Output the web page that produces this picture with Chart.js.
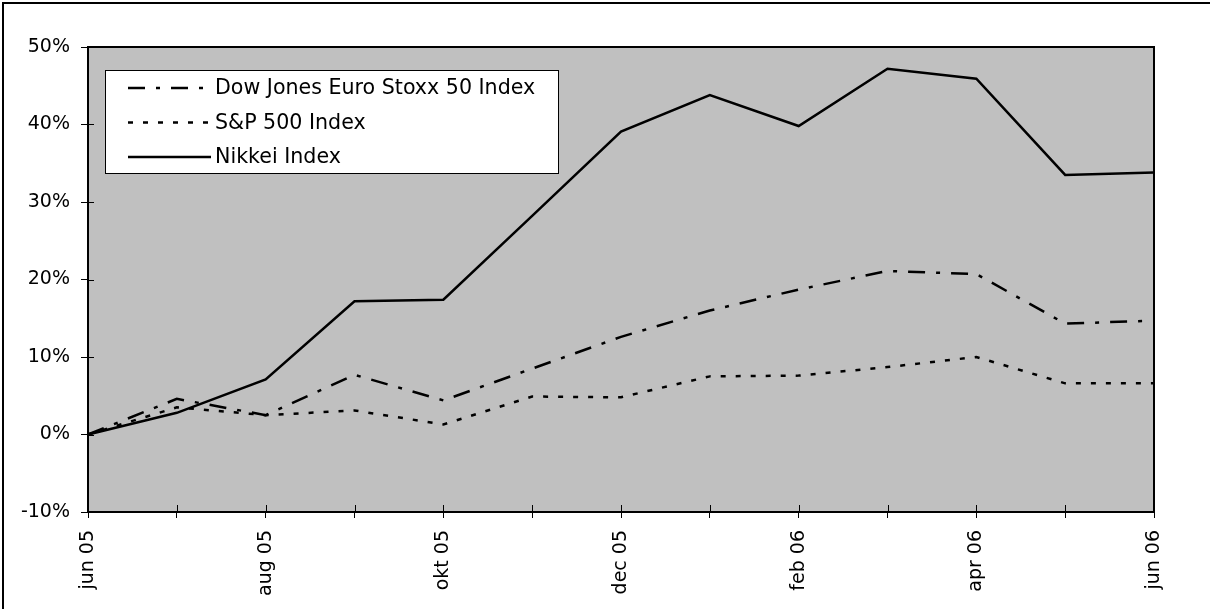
<!DOCTYPE html>
<html>
<head>
<meta charset="utf-8">
<script src="https://cdn.jsdelivr.net/npm/chart.js@4/dist/chart.umd.min.js"></script>
<style>
  html, body { margin: 0; padding: 0; background: #fff; }
  #wrap { position: relative; width: 1210px; height: 609px; }
</style>
</head>
<body>
<div id="wrap"><canvas id="chart" width="1210" height="609"></canvas></div>
<script>
// months on the x axis, only every second one gets a label
const months = ['jun 05', 'jul 05', 'aug 05', 'sep 05', 'okt 05', 'nov 05', 'dec 05',
                'jan 06', 'feb 06', 'mar 06', 'apr 06', 'mai 06', 'jun 06'];

// cumulative return in %
const stoxx50 = [0, 4.6, 2.5, 7.7, 4.4, 8.5, 12.6, 16.0, 18.7, 21.1, 20.7, 14.3, 14.7];
const sp500 = [0, 3.5, 2.5, 3.1, 1.3, 4.9, 4.8, 7.5, 7.6, 8.7, 10.0, 6.6, 6.6];
const nikkei = [0, 2.8, 7.1, 17.2, 17.4, 28.2, 39.1, 43.8, 39.8, 47.2, 45.9, 33.5, 33.8];

const yMin = -10, yMax = 50, yStep = 10;

const FONT = 'DejaVu Sans';

// gray plot area, outer frame
const backdrop = {
    id: 'backdrop',
    beforeDraw(chart) {
        const { ctx, chartArea: a } = chart;
        ctx.save();
        ctx.fillStyle = '#000';
        ctx.fillRect(2, 2, chart.width, 2);
        ctx.fillRect(2, 2, 2, chart.height);
        ctx.fillStyle = '#c0c0c0';
        ctx.fillRect(a.left, a.top, a.right - a.left, a.bottom - a.top);
        ctx.restore();
    }
};

// plot border, inner half of the cross tick marks, legend box
const frame = {
    id: 'frame',
    afterDatasetsDraw(chart) {
        const { ctx, chartArea: a, scales } = chart;
        ctx.save();
        ctx.strokeStyle = '#000';
        ctx.lineWidth = 1;
        ctx.beginPath();
        scales.x.ticks.forEach((t, i) => {
            const x = Math.round(scales.x.getPixelForTick(i)) + 0.5;
            ctx.moveTo(x, a.bottom);
            ctx.lineTo(x, a.bottom - 7);
        });
        scales.y.ticks.forEach((t, i) => {
            const y = Math.round(scales.y.getPixelForTick(i)) + 0.5;
            ctx.moveTo(a.left, y);
            ctx.lineTo(a.left + 6, y);
        });
        ctx.stroke();

        ctx.lineWidth = 2;
        ctx.strokeRect(a.left, a.top, a.right - a.left, a.bottom - a.top);

        // legend
        const bx = 105, by = 70, bw = 453, bh = 103;
        ctx.fillStyle = '#fff';
        ctx.fillRect(bx, by, bw, bh);
        ctx.lineWidth = 1;
        ctx.strokeStyle = '#000';
        ctx.strokeRect(bx + 0.5, by + 0.5, bw, bh);
        ctx.font = '20.6px "' + FONT + '"';
        ctx.textBaseline = 'middle';
        ctx.fillStyle = '#000';
        chart.data.datasets.forEach((ds, i) => {
            const y = by + 18 + i * 34.5;
            ctx.setLineDash(ds.borderDash || []);
            ctx.lineWidth = ds.borderWidth;
            ctx.beginPath();
            ctx.moveTo(bx + 23, y);
            ctx.lineTo(bx + 106, y);
            ctx.stroke();
            ctx.setLineDash([]);
            ctx.fillText(ds.label, bx + 110, y + 1);
        });
        ctx.restore();
    }
};

const line = (label, data, dash) => ({
    label, data,
    borderColor: '#000', backgroundColor: '#000',
    borderWidth: 2.5, borderDash: dash,
    pointRadius: 0, tension: 0, fill: false
});

new Chart(document.getElementById('chart').getContext('2d'), {
    type: 'line',
    data: {
        labels: months,
        datasets: [
            line('Dow Jones Euro Stoxx 50 Index', stoxx50, [17, 11, 4, 11]),
            line('S&P 500 Index', sp500, [5, 10]),
            line('Nikkei Index', nikkei, [])
        ]
    },
    options: {
        responsive: false,
        animation: false,
        devicePixelRatio: 1,
        layout: { padding: { left: 0, top: 47, right: 56, bottom: 0 } },
        plugins: { legend: { display: false }, tooltip: { enabled: false } },
        scales: {
            x: {
                offset: false,
                afterFit(s) { s.height = 97; },
                grid: { drawOnChartArea: false, tickLength: 6, color: '#000', lineWidth: 1 },
                border: { color: '#000', width: 2 },
                ticks: {
                    autoSkip: false, maxRotation: 90, minRotation: 90, padding: 12,
                    color: '#000', font: { family: FONT, size: 19 },
                    callback(v, i) { return i % 2 === 0 ? this.getLabelForValue(v) : ''; }
                }
            },
            y: {
                min: yMin, max: yMax,
                afterFit(s) { s.width = 88; },
                grid: { drawOnChartArea: false, tickLength: 7, color: '#000', lineWidth: 1 },
                border: { color: '#000', width: 2 },
                ticks: {
                    stepSize: yStep, padding: 11,
                    color: '#000', font: { family: FONT, size: 19 },
                    callback: v => v + '%'
                }
            }
        }
    },
    plugins: [backdrop, frame]
});
</script>
</body>
</html>
